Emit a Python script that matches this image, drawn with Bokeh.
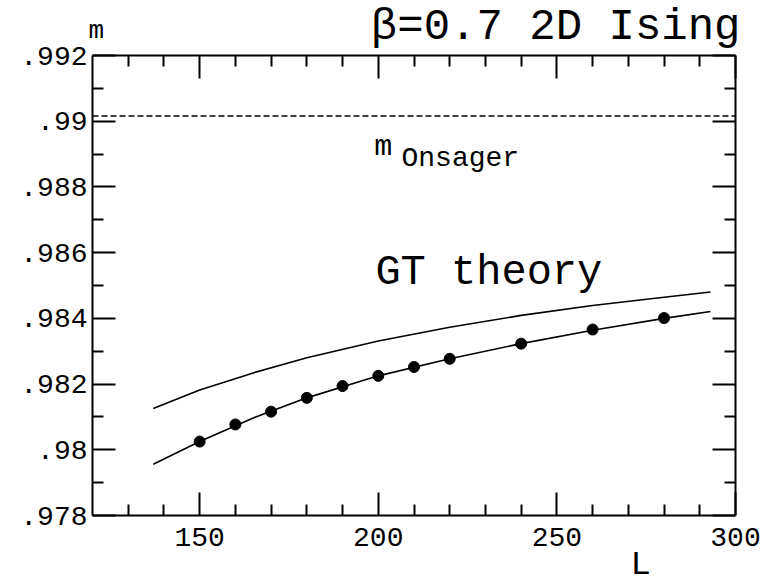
from bokeh.plotting import figure
from bokeh.models import (LinearAxis, FixedTicker, CustomJSTickFormatter, Range1d,
                          Label, Span)
from bokeh.embed import file_html
from bokeh.resources import INLINE

# ---- data ----
L_data = [150, 160, 170, 180, 190, 200, 210, 220, 240, 260, 280]
m_data = [0.98025, 0.98077, 0.98116, 0.98158, 0.98194, 0.98225, 0.98252,
          0.98277, 0.98323, 0.98366, 0.98401]

L_curve = [137, 150, 165, 180, 200, 220, 240, 260, 280, 293]
m_gt = [0.98126, 0.98182, 0.98234, 0.98280, 0.98331, 0.98373, 0.98409,
        0.98439, 0.98464, 0.98480]
m_fit = [0.97956, 0.98025, 0.98097, 0.98158, 0.98225, 0.98277, 0.98323,
         0.98364, 0.98400, 0.98421]

m_onsager = 0.99016

x_major = [150, 200, 250, 300]
x_minor = [130, 140, 160, 170, 180, 190, 210, 220, 230, 240, 260, 270, 280, 290]
y_major = [0.978, 0.980, 0.982, 0.984, 0.986, 0.988, 0.990, 0.992]
y_minor = [0.979, 0.981, 0.983, 0.985, 0.987, 0.989, 0.991]

title_text = "β=0.7 2D Ising"
y_title = "m"
x_title = "L"

FONT = "Liberation Mono"

p = figure(width=769, height=585, output_backend="svg", toolbar_location=None,
           x_axis_type=None, y_axis_type=None,
           x_range=Range1d(120, 300), y_range=Range1d(0.978, 0.992),
           min_border_left=92, min_border_right=34, min_border_top=55,
           min_border_bottom=70)
p.xgrid.visible = False
p.ygrid.visible = False
p.outline_line_color = None
p.background_fill_color = "white"
p.border_fill_color = "white"

blank = CustomJSTickFormatter(code="return '';")
yfmt = CustomJSTickFormatter(code="let s = tick.toFixed(3).replace(/0+$/, ''); return s.replace(/^0/, '');")


def style(ax):
    ax.axis_line_color = "black"
    ax.axis_line_width = 2
    ax.major_tick_line_width = 2
    ax.minor_tick_line_width = 2
    ax.major_tick_line_color = "black"
    ax.minor_tick_line_color = "black"
    ax.major_tick_in = 23
    ax.major_tick_out = 0
    ax.minor_tick_in = 11
    ax.minor_tick_out = 0
    ax.major_label_text_font = FONT
    ax.major_label_text_font_size = "28px"
    ax.major_label_text_color = "black"


def hide_labels(ax):
    ax.major_label_text_font_size = "0px"
    ax.major_label_standoff = 0


xb = LinearAxis(ticker=FixedTicker(ticks=x_major, minor_ticks=x_minor))
style(xb)
xb.major_label_standoff = 12
p.add_layout(xb, "below")

xt = LinearAxis(ticker=FixedTicker(ticks=x_major, minor_ticks=x_minor), formatter=blank)
style(xt)
hide_labels(xt)
p.add_layout(xt, "above")

yl = LinearAxis(ticker=FixedTicker(ticks=y_major, minor_ticks=y_minor), formatter=yfmt)
style(yl)
yl.major_label_standoff = 5
p.add_layout(yl, "left")

yr = LinearAxis(ticker=FixedTicker(ticks=y_major, minor_ticks=y_minor), formatter=blank)
style(yr)
hide_labels(yr)
p.add_layout(yr, "right")

p.add_layout(Span(location=m_onsager, dimension="width", line_color="black",
                  line_width=1.5, line_dash="6 3"))

p.line(L_curve, m_gt, line_color="black", line_width=1.6)
p.line(L_curve, m_fit, line_color="black", line_width=1.6)
p.scatter(L_data, m_data, size=11, fill_color="black", line_color="black")


def lab(x, y, text, size, align="left", place="center"):
    lbl = Label(x=x, y=y, text=text, text_font=FONT, text_font_size=size,
                text_align=align, text_baseline="alphabetic", text_color="black")
    if place == "center":
        p.add_layout(lbl)
    else:
        p.add_layout(lbl, place)


lab(198.9, 0.98921, "m", "30px")
lab(206.5, 0.98886, "Onsager", "28px")
lab(199.2, 0.98539, "GT theory", "42px")

# texts outside the frame live in the side panels so they are not clipped
lab(118.9, 0.99276, y_title, "26px", place="left")
lab(301.4, 0.99287, title_text, "44px", align="right", place="above")
lab(270.6, 0.97650, x_title, "34px", place="right")

open("out.html", "w").write(file_html(p, INLINE))
